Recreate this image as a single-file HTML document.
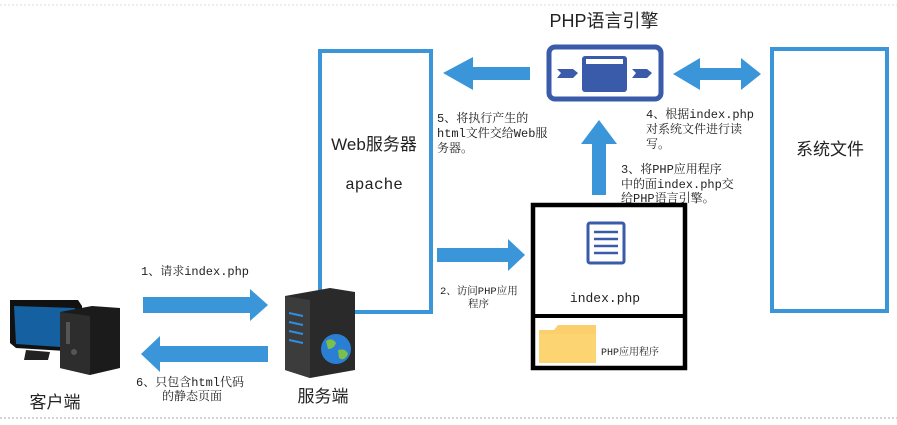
<!DOCTYPE html>
<html><head><meta charset="utf-8"><style>
html,body{margin:0;padding:0;background:#fff;}
svg{display:block;}
text{font-family:"Liberation Mono","Noto Serif CJK SC",monospace;fill:#222;}
.s{font-size:12px;}
.b{font-family:"Liberation Sans","Noto Sans CJK SC",sans-serif;font-size:17px;}
</style></head><body>
<svg width="897" height="425" viewBox="0 0 897 425" xmlns="http://www.w3.org/2000/svg">
<rect width="897" height="425" fill="#fff"/>
<line x1="0" y1="418" x2="897" y2="418" stroke="#aaa" stroke-dasharray="2,2"/>
<line x1="0" y1="5" x2="897" y2="5" stroke="#ddd" stroke-dasharray="2,2"/>
<path d="M320 290 V51 H431 V312 H355" fill="none" stroke="#3a96d8" stroke-width="4"/>
<text class="b" x="374" y="150" text-anchor="middle">Web服务器</text>
<text class="b" x="374" y="189" text-anchor="middle" style="font-family:'Liberation Mono',monospace;font-size:16px">apache</text>
<text class="b" x="604" y="27" text-anchor="middle" style="font-size:18px">PHP语言引擎</text>
<rect x="549" y="47" width="112" height="52" rx="6" fill="#fff" stroke="#3a5ba9" stroke-width="5"/>
<rect x="582" y="56" width="45" height="36" rx="3" fill="#3a5ba9"/>
<rect x="586" y="59" width="37" height="5" fill="#fff"/>
<polygon points="557,69 573,69 578,73 573,78 557,78 561,73" fill="#3a5ba9"/>
<polygon points="632,69 647,69 652,73 647,78 632,78 636,73" fill="#3a5ba9"/>
<polygon points="443,73 473,57 473,67 530,67 530,80 473,80 473,90" fill="#3a96d8"/>
<polygon points="673,74 700,58 700,68 741,68 741,58 761,74 741,90 741,80 700,80 700,90" fill="#3a96d8"/>
<rect x="772" y="49" width="115" height="262" fill="none" stroke="#3a96d8" stroke-width="4"/>
<text class="b" x="830" y="155" text-anchor="middle">系统文件</text>
<polygon points="599,120 617,144 606,144 606,195 592,195 592,144 581,144" fill="#3a96d8"/>
<text class="s" x="437" y="122">5、将执行产生的</text>
<text class="s" x="437" y="137">html文件交给Web服</text>
<text class="s" x="437" y="152">务器。</text>
<text class="s" x="646" y="118">4、根据index.php</text>
<text class="s" x="646" y="133">对系统文件进行读</text>
<text class="s" x="646" y="148">写。</text>
<text class="s" x="621" y="173">3、将PHP应用程序</text>
<text class="s" x="621" y="188">中的面index.php交</text>
<text class="s" x="621" y="202">给PHP语言引擎。</text>
<polygon points="437,248 508,248 508,239 525,255 508,271 508,262 437,262" fill="#3a96d8"/>
<text class="s" x="440" y="294" style="font-size:10.5px">2、访问PHP应用</text>
<text class="s" x="468" y="307" style="font-size:10.5px">程序</text>
<rect x="533" y="205" width="152" height="163" fill="#fff" stroke="#000" stroke-width="4.5"/>
<line x1="533" y1="316" x2="685" y2="316" stroke="#000" stroke-width="4"/>
<rect x="588" y="223" width="36" height="40" rx="2" fill="#fff" stroke="#3a5ba9" stroke-width="3"/>
<g stroke="#3a5ba9" stroke-width="2.5"><line x1="594" y1="232" x2="618" y2="232"/><line x1="594" y1="239" x2="618" y2="239"/><line x1="594" y1="246" x2="618" y2="246"/><line x1="594" y1="253" x2="618" y2="253"/></g>
<text x="605" y="302" text-anchor="middle" style="font-family:'Liberation Mono',monospace;font-size:13px">index.php</text>
<path d="M539 330 h15 l4 -5 h38 v38 h-57 z" fill="#fbce6e"/>
<rect x="539" y="334" width="57" height="29" fill="#fcd472"/>
<text x="601" y="355" style="font-size:10px">PHP应用程序</text>
<polygon points="143,297 250,297 250,289 268,305 250,321 250,313 143,313" fill="#3a96d8"/>
<text class="s" x="141" y="275">1、请求index.php</text>
<polygon points="268,346 160,346 160,336 141,354 160,372 160,362 268,362" fill="#3a96d8"/>
<text class="s" x="136" y="386">6、只包含html代码</text>
<text class="s" x="162" y="400">的静态页面</text>
<polygon points="10,300 78,300 82,306 82,352 16,348 10,343" fill="#111"/>
<polygon points="14,306 75,308 75,348 16,344" fill="#1560a0"/>
<polygon points="26,350 50,352 48,360 24,360" fill="#222"/>
<polygon points="60,312 92,306 120,308 120,368 90,375 60,368" fill="#1b1b1b"/>
<polygon points="60,312 90,316 90,375 60,368" fill="#2d2d2d"/>
<rect x="66" y="322" width="4" height="22" fill="#555"/>
<circle cx="74" cy="352" r="3" fill="#555"/>
<text class="b" x="55" y="408" text-anchor="middle">客户端</text>
<polygon points="285,296 330,288 355,292 355,370 310,378 285,370" fill="#2a2a2a"/>
<polygon points="285,296 310,300 310,378 285,370" fill="#3c3c3c"/>
<g stroke="#2f8fe0" stroke-width="2"><line x1="289" y1="313" x2="303" y2="316"/><line x1="289" y1="322" x2="303" y2="325"/><line x1="289" y1="331" x2="303" y2="334"/><line x1="289" y1="340" x2="303" y2="343"/></g>
<circle cx="336" cy="349" r="15" fill="#2a7fd4"/>
<path d="M326 341 q6 -4 10 2 q-2 6 -8 6 z M338 350 q8 -2 10 4 q-4 8 -9 4 z" fill="#7cc04a"/>
<text class="b" x="323" y="402" text-anchor="middle">服务端</text>
</svg>
</body></html>
